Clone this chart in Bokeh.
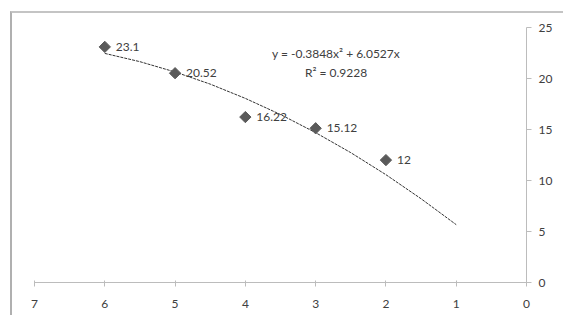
import math
from bokeh.plotting import figure
from bokeh.models import Range1d, ColumnDataSource, Label, FixedTicker
from bokeh.core.properties import value
from bokeh.embed import file_html
from bokeh.resources import INLINE

# data
x_pts = [6, 5, 4, 3, 2]
y_pts = [23.1, 20.52, 16.22, 15.12, 12]
pt_labels = ["23.1", "20.52", "16.22", "15.12", "12"]

trend_x = [6, 5.5, 5, 4.5, 4, 3.5, 3, 2.5, 2, 1.5, 1]
trend_y = [22.46, 21.65, 20.64, 19.45, 18.05, 16.47, 14.69, 12.73, 10.57, 8.21, 5.67]

x_ticks = [0, 1, 2, 3, 4, 5, 6, 7]
y_ticks = [0, 5, 10, 15, 20, 25]
eq_text = "y = -0.3848x\u00b2 + 6.0527x"
r2_text = "R\u00b2 = 0.9228"

FONT = "Lato"
TXT = "#404040"
AX = "#bcbcbc"

p = figure(width=555, height=312, output_backend="svg", toolbar_location=None,
           x_range=Range1d(7, 0), y_range=Range1d(0, 25),
           y_axis_location="right",
           min_border_left=34, min_border_right=27,
           min_border_top=27, min_border_bottom=30)
p.outline_line_color = None
p.xgrid.grid_line_color = None
p.ygrid.grid_line_color = None
p.background_fill_color = "white"
p.border_fill_color = "white"
p.stylesheets = [
    ":host { position: relative; }"
    ":host::after { content: ''; position: absolute; left: 10px; top: 11px;"
    " right: -8px; bottom: -3px; border-top: 2px solid #c4c4c4;"
    " border-left: 2px solid #b0b0b0; pointer-events: none; z-index: 10; }"
]

p.xaxis.ticker = FixedTicker(ticks=x_ticks)
p.yaxis.ticker = FixedTicker(ticks=y_ticks)
for ax in (p.xaxis[0], p.yaxis[0]):
    ax.axis_line_color = AX
    ax.major_tick_line_color = AX
    ax.minor_tick_line_color = None
    ax.major_label_text_font = FONT
    ax.major_label_text_font_size = "12px"
    ax.major_label_text_color = TXT
p.xaxis.major_tick_in = 2
p.xaxis.major_tick_out = 4
p.xaxis.major_label_standoff = 13
p.yaxis.major_tick_in = 0
p.yaxis.major_tick_out = 5
p.yaxis.major_label_standoff = 7

p.line(trend_x, trend_y, line_color="#333333", line_width=1, line_dash="3 1")

src = ColumnDataSource(dict(x=x_pts, y=y_pts, t=pt_labels))
p.scatter("x", "y", source=src, marker="square", angle=math.pi / 4, size=8,
          fill_color="#5a5a5a", line_color="#5a5a5a")
p.text("x", "y", text="t", source=src, x_offset=11, text_baseline="middle",
       text_align="left", text_font=value(FONT), text_font_size="12px",
       text_color=TXT)

p.add_layout(Label(x=2.71, y=22.45, text=eq_text, text_align="center",
                   text_baseline="middle", text_font=FONT,
                   text_font_size="12px", text_color=TXT))
p.add_layout(Label(x=2.71, y=20.6, text=r2_text, text_align="center",
                   text_baseline="middle", text_font=FONT,
                   text_font_size="12px", text_color=TXT))

open("out.html", "w").write(file_html(p, INLINE))
